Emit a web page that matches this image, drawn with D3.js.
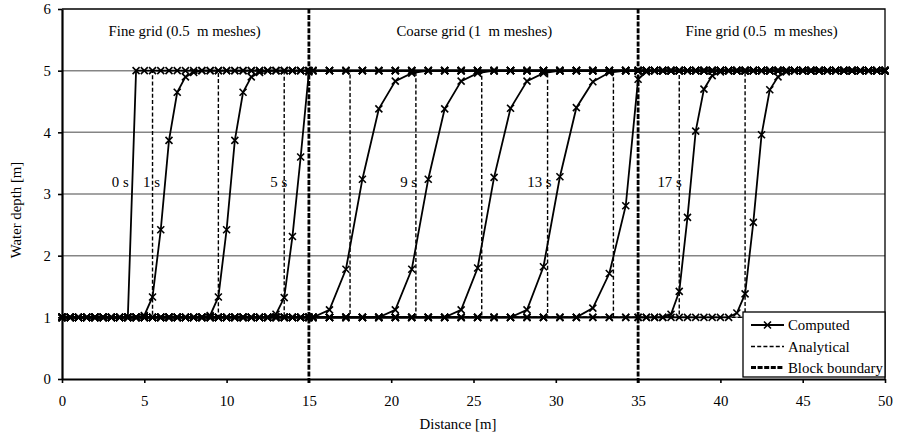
<!DOCTYPE html>
<html>
<head>
<meta charset="utf-8">
<script src="https://cdn.jsdelivr.net/npm/d3@7"></script>
<style>
  body { margin: 0; background: #fff; }
  svg text { font-family: "Liberation Serif", "Times New Roman", serif; }
</style>
</head>
<body>
<script>
// axis ticks
var xTicks = [0, 5, 10, 15, 20, 25, 30, 35, 40, 45, 50];
var yTicks = [0, 1, 2, 3, 4, 5, 6];

// mesh nodes (x in m)
var fineMeshLeft = [0, 0.5, 1, 1.5, 2, 2.5, 3, 3.5, 4, 4.5, 5, 5.5, 6, 6.5, 7, 7.5, 8, 8.5, 9, 9.5, 10,
  10.5, 11, 11.5, 12, 12.5, 13, 13.5, 14, 14.5, 15];
var coarseMesh = [15.25, 16.25, 17.25, 18.25, 19.25, 20.25, 21.25, 22.25, 23.25, 24.25, 25.25,
  26.25, 27.25, 28.25, 29.25, 30.25, 31.25, 32.25, 33.25, 34.25];
var fineMeshRight = [35, 35.5, 36, 36.5, 37, 37.5, 38, 38.5, 39, 39.5, 40, 40.5, 41, 41.5, 42, 42.5,
  43, 43.5, 44, 44.5, 45, 45.5, 46, 46.5, 47, 47.5, 48, 48.5, 49, 49.5, 50];

var lowDepth = 1, highDepth = 5;

// computed profiles: only the nodes in the front, the rest sit at low / high depth
var computedTimes = [0, 1, 3, 5, 7, 9, 11, 13, 15, 17, 19];
var computedFronts = [
  [[4, 1], [4.5, 5]],
  [[5, 1.03], [5.5, 1.33], [6, 2.42], [6.5, 3.87], [7, 4.65], [7.5, 4.9], [8, 4.97]],
  [[9, 1.03], [9.5, 1.33], [10, 2.42], [10.5, 3.87], [11, 4.65], [11.5, 4.9], [12, 4.97]],
  [[13, 1.05], [13.5, 1.32], [14, 2.31], [14.5, 3.6], [15, 4.98]],
  [[16.25, 1.12], [17.25, 1.78], [18.25, 3.24], [19.25, 4.38], [20.25, 4.83], [21.25, 4.96]],
  [[20.25, 1.12], [21.25, 1.78], [22.25, 3.24], [23.25, 4.38], [24.25, 4.83], [25.25, 4.96]],
  [[24.25, 1.12], [25.25, 1.8], [26.25, 3.27], [27.25, 4.39], [28.25, 4.83], [29.25, 4.96]],
  [[28.25, 1.12], [29.25, 1.82], [30.25, 3.28], [31.25, 4.4], [32.25, 4.82], [33.25, 4.97]],
  [[32.25, 1.15], [33.25, 1.71], [34.25, 2.81], [35, 4.86], [35.5, 4.98]],
  [[37, 1.05], [37.5, 1.42], [38, 2.62], [38.5, 4.02], [39, 4.7], [39.5, 4.92], [40, 4.98]],
  [[41, 1.07], [41.5, 1.38], [42, 2.54], [42.5, 3.96], [43, 4.69], [43.5, 4.9], [44, 4.98]]
];

// analytical bore position
var analyticalTimes = [1, 3, 5, 7, 9, 11, 13, 15, 17, 19];
var analyticalFront = [5.5, 9.5, 13.5, 17.5, 21.5, 25.5, 29.5, 33.5, 37.5, 41.5];

var blockBoundaries = [15, 35];

var timeLabels = ["0 s", "1 s", "5 s", "9 s", "13 s", "17 s"];
var timeLabelX = [4.05, 5.95, 13.68, 21.57, 29.74, 37.65];   // right end of each label
var timeLabelY = 3.12;

var zoneLabels = ["Fine grid (0.5  m meshes)", "Coarse grid (1  m meshes)", "Fine grid (0.5  m meshes)"];
var zoneLabelX = [7.45, 25.05, 42.5];
var zoneLabelY = 5.56;

var legendNames = ["Computed", "Analytical", "Block boundary"];

var width = 897, height = 436;
var margin = {top: 9, right: 12, bottom: 57, left: 62};
var fs = "14.8px";
var serif = "Liberation Serif, Times New Roman, serif";

var svg = d3.select("body").append("svg")
  .attr("width", width)
  .attr("height", height)
  .attr("font-family", serif);

var x = d3.scaleLinear().domain([0, 50]).range([margin.left, width - margin.right]);
var y = d3.scaleLinear().domain([0, 6]).range([height - margin.bottom, margin.top]);

// gridlines
svg.append("g").selectAll("line")
  .data(yTicks.filter(function(d){ return d > 0 && d < 6; }))
  .enter().append("line")
  .attr("x1", x(0)).attr("x2", x(50))
  .attr("y1", function(d){ return y(d); }).attr("y2", function(d){ return y(d); })
  .attr("stroke", "#858585").attr("stroke-width", 1.5);

// top / right border
svg.append("path")
  .attr("d", "M" + x(0) + "," + y(6) + "H" + x(50) + "V" + y(0))
  .attr("fill", "none").attr("stroke", "#000").attr("stroke-width", 1.3);

// analytical step profiles
var line = d3.line().x(function(d){ return x(d[0]); }).y(function(d){ return y(d[1]); });

svg.append("g").selectAll("path")
  .data(analyticalFront)
  .enter().append("path")
  .attr("d", function(xf){ return line([[0, lowDepth], [xf, lowDepth], [xf, highDepth], [50, highDepth]]); })
  .attr("fill", "none").attr("stroke", "#000").attr("stroke-width", 1.4)
  .attr("stroke-dasharray", "4,2.2");

// block boundaries
svg.append("g").selectAll("line")
  .data(blockBoundaries)
  .enter().append("line")
  .attr("x1", function(d){ return x(d); }).attr("x2", function(d){ return x(d); })
  .attr("y1", y(0) + 4).attr("y2", y(6))
  .attr("stroke", "#000").attr("stroke-width", 2.8)
  .attr("stroke-dasharray", "5,1.6");

// computed profiles
var allNodes = fineMeshLeft.concat(coarseMesh, fineMeshRight);
function profile(front) {
  var x0 = front[0][0], x1 = front[front.length - 1][0];
  var left = allNodes.filter(function(n){ return n < x0; }).map(function(n){ return [n, lowDepth]; });
  var right = allNodes.filter(function(n){ return n > x1; }).map(function(n){ return [n, highDepth]; });
  return left.concat(front, right);
}
var profiles = computedFronts.map(profile);

svg.append("g").selectAll("path")
  .data(profiles)
  .enter().append("path")
  .attr("d", line)
  .attr("fill", "none").attr("stroke", "#000").attr("stroke-width", 1.8);

var ms = 3.5;
function cross(px, py) {
  return "M" + (px - ms) + "," + (py - ms) + "L" + (px + ms) + "," + (py + ms) +
         "M" + (px - ms) + "," + (py + ms) + "L" + (px + ms) + "," + (py - ms);
}
var markers = svg.append("g");
profiles.forEach(function(p){
  markers.selectAll(null)
    .data(p)
    .enter().append("path")
    .attr("d", function(d){ return cross(x(d[0]), y(d[1])); })
    .attr("stroke", "#000").attr("stroke-width", 1.6).attr("fill", "none");
});

// axes
var xAxis = d3.axisBottom(x).tickValues(xTicks).tickFormat(d3.format("d"))
  .tickSize(4).tickSizeOuter(0).tickPadding(12);
var yAxis = d3.axisLeft(y).tickValues(yTicks).tickFormat(d3.format("d"))
  .tickSize(4).tickSizeOuter(0).tickPadding(7);

var gx = svg.append("g").attr("transform", "translate(0," + y(0) + ")").call(xAxis);
var gy = svg.append("g").attr("transform", "translate(" + x(0) + ",0)").call(yAxis);
[gx, gy].forEach(function(g){
  g.attr("font-family", serif).attr("font-size", fs);
  g.select(".domain").attr("stroke-width", 2.2);
  g.selectAll(".tick line").attr("stroke-width", 1.6);
  g.selectAll("text").attr("fill", "#000");
});

// axis titles
svg.append("text")
  .attr("x", 458).attr("y", 429)
  .attr("text-anchor", "middle").attr("font-size", fs)
  .text("Distance [m]");
svg.append("text")
  .attr("transform", "translate(21,210) rotate(-90)")
  .attr("text-anchor", "middle").attr("font-size", fs)
  .text("Water depth [m]");

// zone labels
svg.append("g").selectAll("text")
  .data(zoneLabels)
  .enter().append("text")
  .attr("x", function(d, i){ return x(zoneLabelX[i]); })
  .attr("y", y(zoneLabelY))
  .attr("text-anchor", "middle").attr("font-size", fs)
  .style("white-space", "pre")
  .text(function(d){ return d; });

// time labels
svg.append("g").selectAll("text")
  .data(timeLabels)
  .enter().append("text")
  .attr("x", function(d, i){ return x(timeLabelX[i]); })
  .attr("y", y(timeLabelY))
  .attr("text-anchor", "end").attr("font-size", fs)
  .text(function(d){ return d; });

// legend
var lg = svg.append("g").attr("transform", "translate(743,312)");
lg.append("rect")
  .attr("width", x(50) - 743).attr("height", y(0) - 312 - 2)
  .attr("fill", "#fff").attr("stroke", "#000").attr("stroke-width", 1.3);
var rowY = [13, 34.5, 55.5];
legendNames.forEach(function(name, i){
  var ly = rowY[i];
  var l = lg.append("line").attr("x1", 8).attr("x2", 41).attr("y1", ly).attr("y2", ly)
    .attr("stroke", "#000");
  if (i === 0) {
    l.attr("stroke-width", 1.8);
    lg.append("path").attr("d", cross(24.5, ly)).attr("stroke", "#000").attr("stroke-width", 1.6);
  } else if (i === 1) {
    l.attr("stroke-width", 1.4).attr("stroke-dasharray", "4,2.2");
  } else {
    l.attr("stroke-width", 2.8).attr("stroke-dasharray", "5,1.6");
  }
  lg.append("text").attr("x", 45).attr("y", ly + 5)
    .attr("font-size", fs).text(name);
});
</script>
</body>
</html>
